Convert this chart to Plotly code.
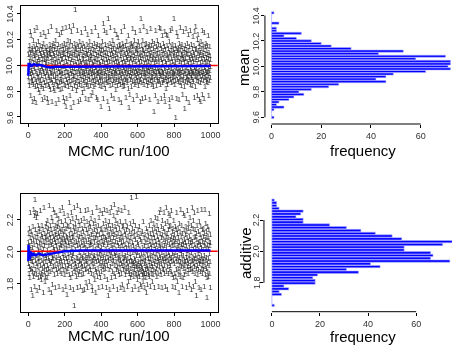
import plotly.graph_objects as go

W, H = 455, 347

# ---------------- data ----------------
iterations = list(range(1, 1001))

mean_samples = [
    9.91, 10.08, 9.95, 10.12, 9.87, 10.03, 9.84, 10.15, 9.98, 10.06, 10.26, 9.93, 10.10, 9.76, 10.01, 10.23, 9.90, 9.96, 10.11, 9.86,
    10.05, 9.94, 10.13, 9.88, 9.72, 10.09, 9.99, 10.19, 9.85, 10.02, 9.92, 10.14, 9.74, 10.07, 9.97, 10.27, 9.89, 10.04, 9.83, 10.12,
    9.95, 10.08, 9.71, 10.16, 10.00, 9.87, 10.10, 9.93, 10.29, 9.84, 10.03, 9.91, 10.13, 9.98, 9.81, 10.06, 10.18, 9.90, 10.01, 9.86,
    10.11, 9.94, 10.04, 9.79, 10.15, 9.96, 10.09, 9.88, 10.24, 9.83, 9.99, 10.07, 9.92, 10.12, 9.85, 10.02, 9.73, 10.14, 9.97, 10.05,
    9.89, 10.10, 9.95, 9.82, 10.17, 10.25, 9.93, 10.04, 9.86, 10.08, 9.75, 10.13, 9.98, 10.01, 9.91, 10.22, 9.84, 10.06, 9.94, 10.11,
    10.02, 9.87, 10.14, 9.96, 10.07, 9.74, 10.10, 9.71, 10.05, 9.92, 10.26, 9.85, 10.00, 9.90, 10.12, 9.83, 10.09, 9.97, 10.16, 9.88,
    9.94, 10.08, 9.81, 10.13, 10.03, 9.89, 10.30, 9.93, 10.06, 9.72, 10.11, 9.99, 9.86, 10.15, 9.95, 10.04, 9.82, 10.09, 9.91, 10.17,
    10.00, 9.85, 10.12, 9.96, 10.07, 9.80, 10.14, 9.92, 10.02, 9.88, 10.19, 9.70, 10.05, 9.98, 10.10, 9.87, 10.27, 9.93, 10.01, 9.84,
    10.13, 9.90, 10.06, 9.83, 10.16, 9.97, 10.09, 9.73, 10.03, 9.94, 10.24, 9.86, 10.11, 9.95, 9.81, 10.07, 10.00, 9.89, 10.14, 9.92,
    10.04, 9.87, 10.25, 9.96, 10.10, 9.82, 10.05, 9.93, 10.15, 10.28, 9.88, 10.08, 9.75, 10.12, 9.99, 10.02, 9.85, 9.72, 10.17, 9.94,
    10.09, 9.91, 10.13, 9.84, 10.06, 9.97, 9.68, 10.29, 9.89, 10.03, 9.74, 10.16, 9.95, 10.08, 9.86, 10.11, 10.00, 9.92, 10.19, 9.83,
    10.05, 9.94, 10.12, 9.87, 10.07, 10.30, 9.90, 10.14, 9.76, 10.02, 9.96, 10.18, 9.85, 10.09, 9.67, 10.04, 9.93, 10.26, 9.88, 10.10,
    9.98, 9.82, 10.15, 9.95, 10.06, 9.89, 10.31, 9.92, 10.01, 9.71, 10.11, 9.97, 10.08, 9.84, 10.17, 9.91, 10.03, 10.43, 9.86, 10.13,
    9.94, 10.07, 9.80, 10.12, 10.00, 9.88, 10.16, 9.95, 10.05, 9.83, 10.27, 9.90, 10.09, 9.97, 9.72, 10.14, 10.02, 9.87, 10.10, 9.93,
    10.06, 9.85, 10.18, 9.96, 10.03, 9.73, 10.11, 9.92, 10.15, 9.89, 10.01, 9.98, 10.25, 9.84, 10.08, 9.94, 10.13, 9.79, 10.04, 9.91,
    10.17, 9.88, 10.05, 9.95, 10.10, 9.82, 10.00, 9.93, 10.14, 9.86, 10.07, 9.97, 10.28, 9.90, 10.02, 9.74, 10.12, 9.96, 10.09, 9.85,
    10.03, 9.92, 10.16, 9.87, 10.08, 9.99, 10.24, 9.83, 10.05, 9.94, 10.11, 9.73, 10.14, 9.91, 10.01, 9.89, 10.18, 9.95, 10.06, 9.84,
    10.10, 9.97, 10.04, 9.76, 10.13, 9.93, 10.07, 9.86, 10.26, 9.90, 10.02, 9.96, 10.15, 9.79, 10.09, 9.94, 10.00, 9.88, 10.12, 9.83,
    10.06, 9.91, 10.17, 9.95, 10.03, 9.85, 10.11, 9.98, 10.29, 9.87, 10.05, 9.92, 10.14, 9.75, 10.08, 9.96, 10.01, 9.89, 10.16, 9.93,
    10.04, 9.73, 10.10, 9.94, 10.23, 9.86, 10.07, 9.97, 10.13, 9.90, 10.02, 9.84, 10.15, 9.95, 10.09, 9.88, 10.00, 9.92, 9.68, 10.11,
    9.96, 10.06, 9.83, 10.14, 9.91, 10.03, 9.87, 10.18, 9.94, 10.08, 9.74, 10.12, 10.32, 9.98, 10.05, 9.85, 10.27, 9.93, 10.01, 9.89,
    10.10, 9.95, 10.16, 9.82, 10.07, 9.99, 10.13, 9.88, 10.04, 9.92, 10.25, 9.86, 10.09, 9.97, 10.02, 9.72, 10.15, 9.94, 10.36, 9.90,
    10.06, 9.87, 10.12, 9.96, 9.66, 10.03, 9.91, 10.17, 9.84, 10.08, 9.98, 10.29, 9.89, 10.05, 9.93, 10.11, 9.76, 10.14, 10.00, 9.95,
    10.09, 9.85, 10.19, 9.92, 10.04, 9.88, 10.13, 9.97, 10.07, 9.74, 10.16, 9.94, 10.01, 9.90, 10.27, 9.86, 10.10, 9.96, 10.05, 9.81,
    10.12, 9.93, 10.03, 9.89, 10.24, 9.95, 10.08, 9.84, 10.14, 9.99, 10.06, 9.91, 10.21, 9.87, 10.02, 9.97, 10.11, 9.73, 10.15, 9.94,
    10.00, 9.88, 10.16, 9.92, 10.07, 9.85, 10.12, 9.96, 10.04, 9.71, 10.26, 9.90, 10.09, 9.95, 10.13, 9.86, 10.02, 9.93, 10.17, 9.83,
    10.05, 9.98, 10.14, 9.87, 10.10, 9.91, 10.30, 9.84, 10.03, 9.96, 10.08, 9.89, 10.15, 9.94, 10.01, 9.75, 10.12, 9.97, 10.06, 9.90,
    10.18, 9.86, 10.09, 9.93, 10.04, 9.88, 10.13, 9.95, 10.23, 9.82, 10.07, 9.99, 9.67, 10.11, 9.92, 10.02, 9.77, 10.16, 9.94, 10.06,
    9.89, 10.12, 9.97, 10.05, 9.83, 10.17, 9.91, 10.08, 9.96, 10.14, 9.87, 10.01, 10.28, 9.93, 10.10, 9.73, 10.04, 9.98, 10.15, 9.88,
    10.07, 9.94, 10.19, 9.85, 10.03, 9.92, 10.11, 9.97, 10.25, 9.86, 10.06, 9.90, 10.13, 9.95, 10.00, 9.76, 10.16, 9.93, 10.09, 9.88,
    10.12, 9.96, 10.04, 9.84, 10.18, 9.91, 10.08, 9.98, 10.14, 9.87, 10.02, 9.94, 10.27, 9.89, 10.06, 9.72, 10.10, 10.36, 9.95, 10.03,
    9.92, 10.15, 9.86, 10.07, 9.97, 10.12, 9.74, 10.19, 9.93, 10.05, 9.88, 10.11, 9.99, 10.30, 9.85, 10.01, 9.95, 10.09, 9.90, 10.16,
    9.94, 10.04, 9.75, 10.13, 9.91, 10.08, 9.97, 10.17, 9.87, 10.02, 9.93, 10.26, 9.84, 10.06, 9.96, 10.11, 9.89, 10.03, 9.98, 10.14,
    9.86, 10.09, 9.92, 10.16, 9.95, 10.05, 9.73, 10.12, 9.99, 10.07, 9.88, 10.28, 9.94, 10.01, 9.90, 10.15, 9.85, 10.10, 9.97, 10.04,
    9.91, 10.18, 9.87, 10.06, 9.96, 10.13, 9.83, 10.08, 9.93, 9.64, 10.02, 9.89, 10.17, 9.95, 10.11, 9.76, 10.04, 9.98, 10.27, 9.92,
    10.07, 9.84, 10.14, 9.94, 10.03, 9.90, 10.19, 9.88, 10.09, 9.97, 10.12, 9.72, 10.05, 9.95, 10.16, 9.87, 10.01, 9.93, 10.29, 9.89,
    10.10, 9.96, 10.06, 9.85, 10.15, 9.92, 10.28, 9.98, 10.04, 9.74, 10.13, 9.91, 10.08, 9.95, 10.23, 9.86, 10.02, 9.94, 10.11, 9.88,
    10.17, 9.93, 10.05, 9.89, 10.09, 9.97, 10.14, 9.76, 10.26, 9.72, 10.03, 9.90, 10.12, 9.96, 10.07, 9.82, 10.24, 9.92, 10.01, 9.87,
    10.15, 9.95, 10.08, 9.85, 10.23, 9.91, 10.04, 9.98, 10.13, 9.88, 10.06, 9.93, 10.18, 9.73, 10.10, 9.68, 10.02, 9.96, 10.27, 9.89,
    10.09, 9.92, 10.14, 9.86, 10.05, 9.97, 10.11, 9.75, 10.28, 9.94, 10.03, 9.90, 10.16, 9.87, 10.07, 9.95, 10.12, 9.91, 10.00, 10.36,
    9.93, 10.10, 9.85, 10.06, 9.96, 10.15, 9.88, 10.02, 9.59, 10.13, 9.92, 10.08, 9.98, 10.25, 9.74, 10.04, 9.94, 10.11, 9.89, 10.22,
    9.97, 10.06, 9.87, 10.13, 9.93, 10.09, 9.73, 10.17, 9.95, 10.03, 9.90, 10.12, 9.86, 10.29, 9.96, 10.05, 9.91, 10.14, 9.84, 10.08,
    10.01, 9.94, 10.16, 9.89, 10.07, 9.97, 10.11, 9.77, 10.04, 9.92, 10.26, 9.88, 10.06, 9.95, 10.13, 9.83, 10.02, 9.66, 10.10, 9.93,
    10.15, 9.87, 10.05, 9.96, 10.28, 9.90, 10.09, 9.74, 10.12, 9.98, 10.03, 9.91, 10.17, 9.86, 10.08, 9.94, 10.24, 9.89, 10.01, 9.95,
    10.11, 9.71, 10.06, 9.93, 10.14, 9.88, 10.04, 9.97, 10.27, 9.85, 10.09, 9.92, 10.02, 9.96, 10.16, 9.90, 10.07, 9.84, 10.13, 9.94,
    10.05, 9.89, 10.22, 9.95, 10.10, 9.87, 10.03, 9.93, 10.15, 9.98, 10.08, 9.75, 10.26, 9.91, 10.04, 9.96, 10.12, 9.83, 10.30, 9.92,
    10.06, 9.97, 10.13, 9.88, 10.01, 9.94, 10.20, 9.76, 10.09, 9.90, 10.24, 9.95, 10.04, 9.87, 10.11, 9.93, 10.17, 9.73, 10.07, 9.96,
    10.14, 9.91, 10.02, 9.86, 10.10, 9.72, 10.18, 9.94, 10.05, 9.89, 10.13, 9.97, 10.08, 9.77, 10.27, 9.92, 10.03, 9.95, 10.16, 9.88,
    10.07, 9.93, 10.12, 9.74, 10.04, 9.98, 10.25, 9.90, 10.09, 9.83, 10.14, 9.96, 10.02, 9.91, 10.17, 9.87, 10.06, 9.94, 10.11, 9.89,
    10.03, 9.95, 10.15, 9.86, 10.08, 9.92, 10.23, 9.97, 10.05, 9.76, 10.10, 9.93, 10.01, 9.88, 10.14, 9.96, 10.07, 9.90, 10.04, 9.99,
]

additive_samples = [
    2.05, 1.92, 2.11, 1.86, 1.99, 2.14, 1.90, 2.03, 1.83, 2.08, 1.95, 2.24, 1.88, 2.01, 1.94, 2.12, 1.76, 2.06, 1.97, 1.89,
    2.10, 1.93, 2.02, 1.87, 1.72, 2.15, 1.96, 2.07, 1.84, 2.26, 1.91, 2.04, 1.86, 2.22, 1.98, 1.78, 2.09, 2.32, 1.94, 2.13,
    1.88, 2.24, 1.97, 2.06, 1.85, 2.21, 1.92, 2.11, 1.75, 2.03, 2.23, 1.90, 2.08, 1.95, 2.16, 1.83, 2.00, 1.93, 2.12, 1.87,
    2.05, 1.77, 2.14, 1.96, 2.02, 1.84, 2.25, 1.91, 2.07, 1.98, 1.86, 2.10, 1.82, 2.04, 1.94, 2.16, 1.89, 1.99, 2.09, 1.85,
    2.13, 1.92, 2.01, 1.74, 2.06, 1.95, 2.27, 1.87, 2.03, 1.90, 2.11, 1.81, 2.08, 1.97, 1.84, 2.15, 1.93, 2.05, 1.88, 2.17,
    1.96, 2.09, 1.83, 2.12, 2.00, 1.91, 2.19, 1.86, 2.07, 1.95, 2.14, 1.89, 2.03, 1.76, 2.28, 1.94, 2.10, 1.98, 2.05, 1.87,
    2.16, 1.92, 2.08, 1.99, 2.13, 1.74, 2.04, 1.93, 2.21, 1.88, 2.11, 1.96, 2.06, 1.79, 2.18, 1.95, 2.02, 2.26, 1.90, 2.09,
    1.97, 2.14, 1.85, 2.07, 2.01, 2.24, 1.91, 2.10, 1.77, 2.05, 2.16, 1.94, 2.12, 1.88, 2.03, 2.22, 1.96, 2.08, 1.86, 2.15,
    2.00, 1.92, 2.17, 2.06, 1.89, 2.11, 1.97, 2.20, 1.78, 2.09, 2.02, 1.93, 2.14, 1.87, 2.25, 2.04, 1.95, 2.12, 1.90, 2.07,
    2.18, 1.94, 2.03, 1.86, 2.13, 2.08, 1.91, 2.27, 1.98, 2.05, 1.76, 2.16, 1.96, 2.10, 1.88, 2.02, 2.23, 1.93, 2.07, 1.85,
    2.12, 1.97, 2.06, 1.90, 2.19, 1.78, 2.04, 2.14, 1.95, 2.09, 1.87, 2.01, 1.73, 2.16, 1.93, 2.08, 1.89, 2.22, 1.98, 2.05,
    1.91, 2.15, 1.96, 2.03, 1.85, 2.30, 2.10, 1.92, 2.07, 1.77, 2.18, 1.99, 2.13, 1.83, 2.06, 1.95, 2.24, 1.90, 2.02, 2.11,
    1.86, 2.08, 1.97, 2.20, 1.93, 2.04, 1.76, 2.15, 1.98, 2.09, 1.89, 2.27, 1.66, 2.12, 1.94, 2.05, 1.87, 2.17, 1.92, 2.01,
    2.14, 1.90, 2.06, 1.84, 2.21, 1.96, 2.10, 1.88, 2.03, 1.77, 2.28, 1.95, 2.13, 1.91, 2.07, 1.85, 2.18, 1.99, 2.04, 1.93,
    2.09, 1.87, 2.16, 1.94, 2.02, 1.78, 2.25, 1.97, 2.11, 1.89, 2.05, 1.92, 2.19, 1.85, 2.08, 1.96, 2.14, 1.90, 1.75, 2.03,
    1.95, 2.12, 1.86, 2.07, 1.99, 2.20, 1.91, 2.04, 1.76, 2.16, 1.94, 2.09, 1.88, 2.25, 1.97, 2.02, 1.80, 2.13, 1.93, 2.06,
    1.89, 2.18, 1.96, 2.01, 1.77, 2.11, 1.92, 2.26, 1.98, 2.07, 1.87, 2.14, 1.95, 2.03, 1.81, 2.17, 1.90, 2.09, 1.97, 2.05,
    2.15, 1.88, 2.04, 1.93, 2.20, 1.86, 2.10, 1.99, 2.06, 1.78, 2.24, 1.94, 1.75, 2.12, 1.90, 2.02, 1.96, 2.17, 1.85, 2.08,
    1.92, 2.13, 1.97, 2.05, 1.82, 2.19, 1.95, 2.08, 1.88, 2.01, 1.74, 2.15, 1.93, 2.10, 1.87, 2.27, 1.99, 2.04, 1.84, 2.12,
    1.96, 2.07, 1.89, 2.16, 1.94, 2.03, 1.77, 2.21, 1.98, 2.10, 1.86, 2.05, 1.92, 2.25, 1.95, 2.00, 1.83, 2.13, 1.91, 2.08,
    2.02, 1.87, 2.14, 1.97, 2.06, 1.78, 2.23, 1.93, 2.11, 1.90, 2.04, 1.96, 2.17, 1.88, 2.09, 1.99, 2.26, 1.92, 2.05, 1.84,
    2.13, 1.95, 2.08, 1.89, 2.19, 2.01, 1.93, 2.15, 1.77, 2.07, 1.98, 2.25, 1.91, 2.04, 1.82, 2.12, 1.96, 2.09, 1.72, 2.16,
    1.94, 2.05, 1.88, 2.18, 2.00, 2.10, 1.76, 2.24, 1.97, 2.07, 1.90, 2.14, 1.95, 2.03, 1.83, 2.27, 1.99, 2.11, 1.92, 2.06,
    1.87, 2.16, 2.02, 1.96, 2.12, 1.78, 2.08, 1.94, 2.22, 1.86, 2.04, 2.29, 1.98, 2.10, 1.91, 2.15, 1.84, 2.06, 1.97, 2.19,
    2.01, 1.93, 2.13, 1.88, 2.09, 1.99, 2.24, 1.90, 2.05, 1.76, 2.17, 1.95, 2.11, 1.87, 2.03, 1.96, 2.26, 1.92, 2.07, 1.85,
    2.14, 1.97, 2.02, 1.89, 2.18, 1.94, 2.08, 1.77, 2.11, 1.92, 2.05, 1.86, 2.25, 1.98, 2.03, 1.79, 2.15, 1.91, 2.09, 1.95,
    2.06, 1.88, 2.16, 1.93, 2.01, 1.76, 2.12, 1.96, 2.27, 1.90, 2.04, 1.85, 2.10, 1.97, 2.18, 1.87, 2.02, 1.94, 2.13, 1.89,
    2.07, 1.92, 1.99, 1.78, 2.15, 1.95, 2.09, 1.81, 2.04, 1.90, 2.24, 1.87, 2.01, 1.93, 2.12, 1.86, 2.06, 1.98, 2.17, 1.83,
    1.96, 2.08, 1.89, 2.02, 1.94, 2.33, 1.85, 2.11, 1.91, 2.05, 1.76, 2.14, 1.93, 1.99, 1.87, 2.18, 1.92, 2.03, 1.84, 2.09,
    1.95, 1.88, 2.12, 1.91, 2.00, 1.78, 2.07, 1.94, 2.16, 1.86, 2.02, 1.90, 1.97, 2.34, 1.85, 2.10, 1.92, 1.99, 1.82, 2.05,
    1.89, 2.13, 1.93, 1.86, 2.04, 1.76, 2.09, 1.91, 1.97, 1.84, 2.15, 1.88, 2.01, 1.92, 1.79, 2.07, 1.95, 1.87, 2.11, 1.90,
    1.98, 1.78, 2.06, 1.93, 1.85, 2.12, 1.89, 2.02, 1.81, 1.95, 2.18, 1.87, 1.99, 1.84, 2.08, 1.92, 1.86, 2.03, 1.77, 1.96,
    2.10, 1.88, 1.94, 1.83, 2.05, 1.91, 2.14, 1.86, 1.74, 2.00, 1.90, 2.07, 1.79, 1.97, 2.12, 1.89, 2.03, 1.85, 1.95, 2.09,
    1.87, 2.01, 1.93, 2.16, 1.84, 2.06, 1.91, 1.98, 1.78, 2.11, 1.95, 2.04, 1.88, 2.19, 1.92, 2.02, 1.86, 2.08, 1.97, 1.81,
    2.13, 1.90, 2.05, 1.94, 1.85, 2.10, 1.99, 2.17, 1.88, 2.03, 1.92, 2.08, 1.77, 2.14, 1.96, 2.01, 1.87, 2.21, 1.93, 2.06,
    1.98, 2.12, 1.89, 2.04, 1.84, 2.16, 1.95, 2.09, 1.91, 2.00, 2.20, 1.86, 2.07, 1.94, 2.13, 1.78, 2.03, 1.97, 2.24, 1.90,
    2.05, 1.93, 2.11, 1.87, 2.02, 1.96, 2.26, 1.85, 2.08, 1.92, 2.15, 1.99, 2.04, 1.77, 2.10, 1.95, 2.19, 1.89, 2.01, 1.94,
    2.14, 1.88, 2.07, 1.97, 2.24, 1.91, 2.03, 1.86, 2.12, 1.95, 2.06, 1.78, 2.17, 1.93, 2.09, 1.98, 2.27, 1.87, 2.02, 1.96,
    2.11, 1.90, 2.05, 1.76, 2.18, 1.94, 2.08, 1.99, 2.13, 1.86, 2.23, 1.92, 2.04, 1.97, 2.15, 1.88, 2.22, 1.95, 2.07, 1.91,
    2.02, 2.16, 1.87, 2.09, 1.96, 2.25, 1.93, 2.05, 1.85, 2.12, 1.98, 2.03, 1.78, 2.14, 1.94, 2.08, 1.83, 2.19, 1.97, 2.06,
    1.92, 2.10, 1.86, 2.04, 1.99, 2.15, 1.77, 2.07, 1.84, 2.13, 1.95, 2.01, 1.88, 2.24, 1.93, 2.06, 1.81, 2.11, 1.97, 2.02,
    1.89, 2.14, 1.94, 2.08, 1.85, 2.03, 1.74, 2.17, 1.96, 2.05, 1.91, 2.12, 1.87, 2.00, 1.93, 2.26, 1.84, 2.09, 1.98, 2.04,
    1.90, 2.16, 1.95, 2.02, 1.78, 2.11, 1.92, 2.06, 1.83, 2.23, 1.97, 2.04, 1.89, 2.13, 1.94, 2.07, 1.85, 2.22, 1.91, 2.01,
    2.10, 1.93, 2.05, 1.87, 2.15, 1.96, 2.03, 1.77, 2.12, 1.98, 2.08, 1.90, 2.25, 1.94, 2.00, 1.86, 2.14, 1.92, 2.06, 1.88,
    2.17, 1.95, 2.09, 1.79, 2.02, 1.97, 2.21, 1.91, 2.05, 1.88, 2.12, 1.93, 2.07, 1.76, 2.16, 1.99, 2.03, 1.89, 2.27, 1.94,
    2.06, 1.87, 2.14, 1.96, 2.01, 1.78, 2.19, 1.92, 2.08, 1.95, 2.24, 1.90, 2.04, 1.86, 2.13, 1.97, 2.09, 1.81, 2.02, 1.93,
    2.11, 1.89, 1.72, 2.07, 1.95, 2.16, 1.91, 2.03, 1.85, 2.25, 1.98, 2.05, 1.88, 2.12, 1.94, 2.00, 1.77, 2.18, 1.92, 2.06,
    1.96, 2.10, 1.87, 2.04, 1.93, 2.15, 1.76, 2.08, 1.97, 2.02, 1.89, 2.26, 1.94, 2.06, 1.86, 2.13, 1.91, 2.01, 1.95, 2.09,
    1.88, 2.14, 1.93, 2.05, 1.78, 2.11, 1.97, 2.03, 2.26, 1.90, 2.07, 1.85, 2.17, 1.94, 2.02, 1.89, 2.12, 1.96, 2.08, 1.83,
    1.71, 2.04, 1.92, 2.15, 1.87, 2.09, 1.95, 2.01, 1.84, 2.13, 1.91, 2.06, 1.98, 2.23, 1.86, 2.03, 1.93, 2.10, 1.77, 2.05,
]

# running (cumulative) means
mean_running_x = [1, 2, 3, 4, 5, 6, 8, 10, 13, 16, 20, 25, 30, 40, 50, 60, 70, 80, 90, 100, 120, 150, 200, 300, 400, 500, 600, 700, 800, 900, 1000]
mean_running_y = [9.92, 9.95, 10.02, 10.00, 10.01, 9.99, 10.02, 10.00, 10.01, 9.99, 10.00, 10.005, 10.01, 10.005, 10.00, 10.005, 10.00, 9.995, 9.99, 9.99, 9.985, 9.99, 9.99, 9.99, 9.99, 9.99, 9.99, 9.99, 9.995, 9.995, 9.995]
additive_running_x = [1, 2, 3, 4, 5, 6, 7, 8, 10, 12, 15, 20, 25, 30, 40, 50, 60, 80, 100, 120, 150, 200, 300, 400, 500, 600, 700, 800, 900, 1000]
additive_running_y = [1.94, 2.04, 1.95, 2.02, 1.96, 1.99, 1.95, 1.98, 1.96, 2.00, 1.98, 1.97, 1.99, 1.98, 1.975, 1.98, 1.985, 1.975, 1.98, 1.985, 1.99, 2.00, 2.005, 2.005, 2.005, 2.005, 2.005, 2.005, 2.005, 2.005]

mean_true = 10.0
additive_true = 2.0

# histograms (bin centres, counts)
mean_bins = [9.60, 9.62, 9.64, 9.66, 9.68, 9.70, 9.72, 9.74, 9.76, 9.78, 9.80, 9.82, 9.84, 9.86,
             9.88, 9.90, 9.92, 9.94, 9.96, 9.98, 10.00, 10.02, 10.04, 10.06, 10.08, 10.10, 10.12,
             10.14, 10.16, 10.18, 10.20, 10.22, 10.24, 10.26, 10.28, 10.30, 10.32, 10.34, 10.36,
             10.38, 10.40, 10.42]
mean_counts = [1, 0, 0, 1, 5, 2, 3, 7, 9, 13, 11, 16, 23, 27, 46, 42, 46, 49, 62, 72, 71, 72, 72,
               58, 70, 43, 53, 32, 24, 20, 16, 10, 5, 12, 2, 2, 0, 3, 0, 0, 0, 1]
additive_bins = [1.655, 1.673, 1.690, 1.708, 1.726, 1.744, 1.761, 1.779, 1.797, 1.814, 1.832, 1.850,
                 1.867, 1.885, 1.903, 1.921, 1.938, 1.956, 1.974, 1.991, 2.009, 2.027, 2.044, 2.062,
                 2.080, 2.098, 2.115, 2.133, 2.151, 2.168, 2.186, 2.204, 2.221, 2.239, 2.257, 2.274,
                 2.292, 2.310, 2.327]
additive_counts = [1, 0, 0, 0, 4, 3, 7, 5, 18, 18, 17, 19, 36, 31, 45, 41, 74, 66, 67, 66, 55, 55,
                   71, 75, 54, 50, 43, 37, 31, 24, 13, 13, 10, 12, 13, 3, 2, 2, 1]

trace_xticks = [0, 200, 400, 600, 800, 1000]
hist_xticks = [0, 20, 40, 60]
mean_yticks = [9.6, 9.8, 10.0, 10.2, 10.4]
mean_yticklabels = ["9.6", "9.8", "10.0", "10.2", "10.4"]
additive_yticks = [1.8, 2.0, 2.2]
additive_yticklabels = ["1.8", "2.0", "2.2"]

# ---------------- styling ----------------
FONT = "Liberation Sans, Arial, Helvetica, sans-serif"
TICKFONT = dict(family=FONT, size=9, color="#333333")


def px_x(p):
    return p / W


def px_y(p):
    return 1 - p / H


fig = go.Figure()

# trace panels
for samples, running_x, running_y, truth, xa, ya in [
    (mean_samples, mean_running_x, mean_running_y, mean_true, "x", "y"),
    (additive_samples, additive_running_x, additive_running_y, additive_true, "x3", "y3"),
]:
    fig.add_trace(go.Scatter(
        x=iterations, y=samples, mode="text", text=["1"] * len(samples),
        textfont=dict(family=FONT, size=8, color="rgba(0,0,0,0.8)"),
        textposition="middle center", xaxis=xa, yaxis=ya, hoverinfo="skip",
        showlegend=False))
    fig.add_trace(go.Scatter(
        x=[-40, 1040], y=[truth, truth], mode="lines",
        line=dict(color="#ff0000", width=1.4), xaxis=xa, yaxis=ya, showlegend=False))
    fig.add_trace(go.Scatter(
        x=running_x, y=running_y, mode="lines",
        line=dict(color="#0000ff", width=2.5), xaxis=xa, yaxis=ya, showlegend=False))

# histograms
fig.add_trace(go.Bar(
    x=mean_counts, y=mean_bins, orientation="h", width=0.017,
    marker=dict(color="#0000ff", line=dict(color="#b4b4ff", width=0.6)),
    xaxis="x2", yaxis="y2", showlegend=False))
fig.add_trace(go.Bar(
    x=additive_counts, y=additive_bins, orientation="h", width=0.015,
    marker=dict(color="#0000ff", line=dict(color="#b4b4ff", width=0.6)),
    xaxis="x4", yaxis="y4", showlegend=False))

# panel geometry (pixels)
TL = dict(x0=21, x1=219.3, y0=5.7, y1=123.3, lab=10)
TR = dict(x0=266.7, x1=455, y0=5.7, y1=124, lab=258)
BL = dict(x0=21, x1=219.3, y0=194, y1=311.7, lab=10)
BR = dict(x0=265.7, x1=455, y0=194, y1=311.7, lab=258)

common_axis = dict(showgrid=False, zeroline=False, ticks="outside", ticklen=3,
                   tickwidth=1, tickcolor="black", tickfont=TICKFONT)
box = dict(showline=True, linecolor="black", linewidth=1, mirror=True)

fig.update_layout(
    width=W, height=H, margin=dict(l=0, r=0, t=0, b=0),
    paper_bgcolor="white", plot_bgcolor="white", bargap=0,
    xaxis=dict(domain=[px_x(TL["x0"]), px_x(TL["x1"])], range=[-40, 1040], anchor="y",
               tickvals=trace_xticks, **common_axis, **box),
    yaxis=dict(domain=[px_y(TL["y1"]), px_y(TL["y0"])], range=[9.551, 10.464], anchor="x",
               tickvals=mean_yticks, showticklabels=False, **common_axis, **box),
    xaxis2=dict(domain=[px_x(TR["x0"]), 1], range=[-2.65, 72.6], anchor="y2",
                tickvals=hist_xticks, showline=False, **common_axis),
    yaxis2=dict(domain=[px_y(TR["y1"]), px_y(TR["y0"])], range=[9.5473, 10.477], anchor="x2",
                tickvals=mean_yticks, showticklabels=False, showline=False, **common_axis),
    xaxis3=dict(domain=[px_x(BL["x0"]), px_x(BL["x1"])], range=[-40, 1040], anchor="y3",
                tickvals=trace_xticks, **common_axis, **box),
    yaxis3=dict(domain=[px_y(BL["y1"]), px_y(BL["y0"])], range=[1.6225, 2.358], anchor="x3",
                tickvals=additive_yticks, showticklabels=False, **common_axis, **box),
    xaxis4=dict(domain=[px_x(BR["x0"]), 1], range=[-3.3, 74.9], anchor="y4",
                tickvals=hist_xticks, showline=False, **common_axis),
    yaxis4=dict(domain=[px_y(BR["y1"]), px_y(BR["y0"])], range=[1.615, 2.366], anchor="x4",
                tickvals=additive_yticks, showticklabels=False, showline=False, **common_axis),
)

# R-style partial axis lines for histograms
shapes = [
    dict(type="line", xref="paper", yref="y2", x0=px_x(TR["x0"]), x1=px_x(TR["x0"]),
         y0=mean_yticks[0], y1=mean_yticks[-1], line=dict(color="black", width=1)),
    dict(type="line", xref="x2", yref="paper", x0=hist_xticks[0], x1=hist_xticks[-1],
         y0=px_y(TR["y1"]), y1=px_y(TR["y1"]), line=dict(color="black", width=1)),
    dict(type="line", xref="paper", yref="y4", x0=px_x(BR["x0"]), x1=px_x(BR["x0"]),
         y0=additive_yticks[0], y1=additive_yticks[-1], line=dict(color="black", width=1)),
    dict(type="line", xref="x4", yref="paper", x0=hist_xticks[0], x1=hist_xticks[-1],
         y0=px_y(BR["y1"]), y1=px_y(BR["y1"]), line=dict(color="black", width=1)),
]
fig.update_layout(shapes=shapes)

TITLEFONT = dict(family=FONT, size=15, color="black")
annotations = [
    dict(text="MCMC run/100", x=px_x(120), y=px_y(150)),
    dict(text="MCMC run/100", x=px_x(120), y=px_y(335)),
    dict(text="frequency", x=px_x(365), y=px_y(150)),
    dict(text="frequency", x=px_x(365), y=px_y(336)),
    dict(text="mean", x=px_x(245), y=px_y(66.7), textangle=-90),
    dict(text="additive", x=px_x(247), y=px_y(252.7), textangle=-90),
]
for a in annotations:
    a.update(xref="paper", yref="paper", showarrow=False, font=TITLEFONT,
             xanchor="center", yanchor="middle")

# rotated (R las=0) y tick labels
for panel, yref, ticks, labels in [
    (TL, "y", mean_yticks, mean_yticklabels),
    (TR, "y2", mean_yticks, mean_yticklabels),
    (BL, "y3", additive_yticks, additive_yticklabels),
    (BR, "y4", additive_yticks, additive_yticklabels),
]:
    for v, lab in zip(ticks, labels):
        annotations.append(dict(
            text=lab, x=px_x(panel["lab"]), y=v, xref="paper", yref=yref,
            textangle=-90, showarrow=False, font=TICKFONT,
            xanchor="center", yanchor="middle"))
fig.update_layout(annotations=annotations)

POST = (
    "document.body.style.margin='0';"
    "document.body.style.overflow='hidden';"
    "document.querySelectorAll('text').forEach(function(t){t.style.filter='grayscale(1)';});"
    "document.querySelectorAll('g.text').forEach(function(g){g.style.filter='grayscale(1)';});"
)
fig.write_html("out.html", config={"displayModeBar": False, "staticPlot": True}, post_script=POST)
